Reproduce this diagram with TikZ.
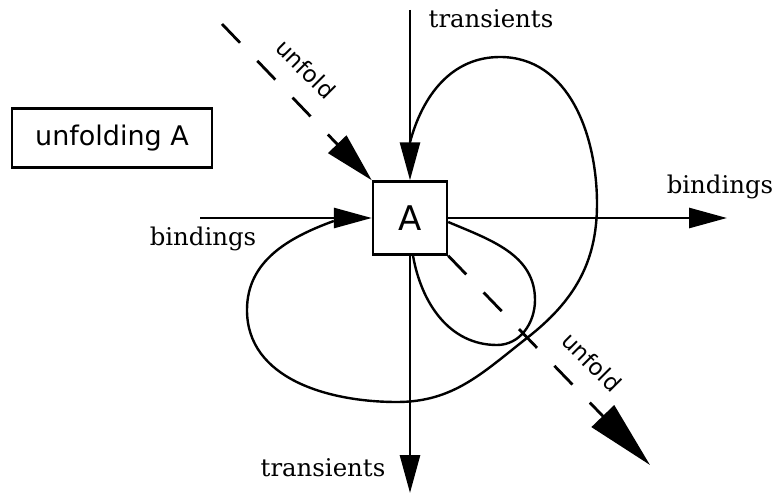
\documentclass[tikz,border=0pt]{standalone}
\usepackage{fontspec}
\setmainfont{DejaVu Serif}
\setsansfont{DejaVu Sans}
\usetikzlibrary{arrows.meta, calc}

\begin{document}
\begin{tikzpicture}[
    x=0.5pt, y=0.5pt,
    flow/.style={-{Triangle[length=19pt, width=10pt]}, line width=1.4pt},
    unfoldline/.style={dash pattern=on 13pt off 12.5pt, line width=1.4pt},
    loopline/.style={line width=1.2pt},
    lbl/.style={font=\fontsize{12.2}{14}\selectfont},
    sflbl/.style={font=\sffamily\fontsize{11.5}{13}\selectfont, rotate=-45}
  ]
  \useasboundingbox (0,0) rectangle (778,494);

  % Box A and title
  \node[draw, line width=1.2pt, minimum width=37pt, minimum height=36.5pt, inner sep=0pt, font=\sffamily\fontsize{17}{20}\selectfont] (A) at (410,276) {A};
  \node[draw, line width=1.2pt, minimum width=100pt, minimum height=29.5pt, font=\sffamily\fontsize{13.5}{16}\selectfont] (title) at (112,356) {unfolding A};

  % Free ends
  \coordinate (tin) at (410,484);
  \coordinate (tout) at (410,1);
  \coordinate (bin) at (200,276);
  \coordinate (bout) at (727,276);
  \coordinate (uin) at (222,470);
  \coordinate (uout) at (650,29);

  % Arrows
  \draw[flow] (tin) -- (A.north);
  \draw[flow] (A.south) -- (tout);
  \draw[flow] (bin) -- (A.west);
  \draw[flow] (A.east) -- (bout);

  % Unfold diagonal
  \draw[unfoldline, -{Triangle[length=25pt, width=12.5pt]}] (uin) -- (A.north west);
  \draw[unfoldline, -{Triangle[length=34pt, width=15.5pt]}] (A.south east) -- (uout);

  % Loops
  \draw[loopline] ($(A.north)+(0,38)$) to[out=75, in=180] (500,437) to[out=0, in=90] (597,290)
    to[out=-90, in=38] (527,156) to[out=218, in=0] (397,92) to[out=180, in=-90] (247,184)
    to[out=90, in=200] ($(A.west)+(-38,-3)$);
  \draw[loopline] ($(A.east)+(0,-4)$) to[out=-23, in=90] (535,194) to[out=-90, in=0] (497,149)
    to[out=180, in=-80] ($(A.south)+(3,0)$);

  % Labels
  \node[lbl] (tinlbl) at (491,475) {transients};
  \node[lbl] (toutlbl) at (323,26) {transients};
  \node[lbl] (binlbl) at (203,255) {bindings};
  \node[lbl] (boutlbl) at (720,307) {bindings};
  \node[sflbl] (unfin) at (306,425) {unfold};
  \node[sflbl] (unfout) at (592,132) {unfold};
\end{tikzpicture}
\end{document}
